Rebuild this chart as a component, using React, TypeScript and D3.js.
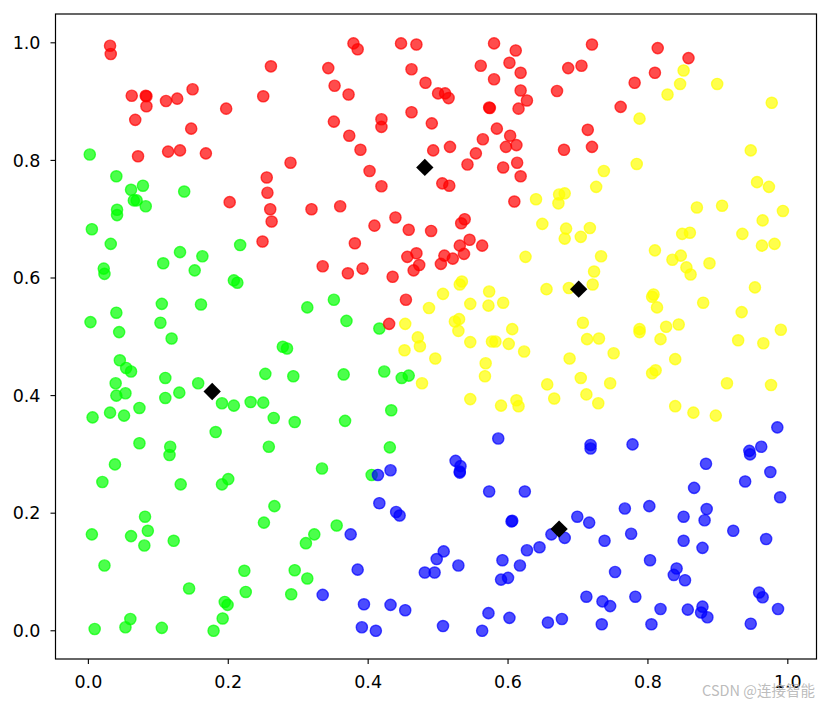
import React from "react";
import * as d3 from "d3";

// ---- data ----
const redPoints: [number, number][] = [
  [0.031, 0.995], [0.032, 0.981], [0.261, 0.960], [0.062, 0.910], [0.082, 0.910], [0.083, 0.909],
  [0.083, 0.892], [0.111, 0.901], [0.127, 0.905], [0.149, 0.921], [0.197, 0.888], [0.250, 0.909],
  [0.067, 0.869], [0.147, 0.854], [0.071, 0.807], [0.114, 0.815], [0.131, 0.817], [0.168, 0.812],
  [0.289, 0.796], [0.255, 0.771], [0.256, 0.745], [0.202, 0.729], [0.260, 0.717], [0.262, 0.696],
  [0.319, 0.717], [0.379, 0.999], [0.385, 0.989], [0.447, 0.999], [0.469, 0.997], [0.580, 0.999],
  [0.611, 0.987], [0.343, 0.957], [0.462, 0.955], [0.561, 0.961], [0.602, 0.966], [0.618, 0.949],
  [0.686, 0.957], [0.352, 0.927], [0.372, 0.912], [0.482, 0.932], [0.500, 0.914], [0.510, 0.914],
  [0.515, 0.906], [0.580, 0.938], [0.618, 0.919], [0.627, 0.902], [0.670, 0.918], [0.462, 0.882],
  [0.573, 0.890], [0.574, 0.889], [0.615, 0.888], [0.351, 0.866], [0.419, 0.870], [0.419, 0.857],
  [0.491, 0.863], [0.373, 0.842], [0.389, 0.818], [0.493, 0.817], [0.517, 0.823], [0.564, 0.836],
  [0.584, 0.854], [0.603, 0.842], [0.597, 0.823], [0.612, 0.826], [0.554, 0.812], [0.542, 0.793],
  [0.593, 0.788], [0.613, 0.796], [0.618, 0.773], [0.680, 0.818], [0.402, 0.782], [0.419, 0.756],
  [0.506, 0.761], [0.516, 0.757], [0.609, 0.730], [0.360, 0.722], [0.439, 0.703], [0.409, 0.689],
  [0.458, 0.682], [0.490, 0.680], [0.533, 0.693], [0.538, 0.700], [0.720, 0.997], [0.814, 0.991],
  [0.858, 0.974], [0.705, 0.961], [0.810, 0.949], [0.781, 0.932], [0.761, 0.891], [0.714, 0.852],
  [0.720, 0.823], [0.249, 0.662], [0.381, 0.659], [0.335, 0.620], [0.371, 0.608], [0.392, 0.616],
  [0.435, 0.602], [0.456, 0.636], [0.469, 0.642], [0.473, 0.622], [0.465, 0.613], [0.509, 0.638],
  [0.504, 0.624], [0.521, 0.633], [0.531, 0.655], [0.537, 0.641], [0.545, 0.665], [0.563, 0.655],
  [0.454, 0.563], [0.430, 0.522],
];

const yellowPoints: [number, number][] = [
  [0.640, 0.734], [0.673, 0.742], [0.681, 0.744], [0.672, 0.727], [0.649, 0.692], [0.683, 0.684],
  [0.851, 0.953], [0.846, 0.930], [0.828, 0.912], [0.899, 0.930], [0.977, 0.898], [0.788, 0.871],
  [0.947, 0.817], [0.784, 0.794], [0.737, 0.782], [0.726, 0.755], [0.956, 0.763], [0.973, 0.755],
  [0.870, 0.720], [0.906, 0.723], [0.964, 0.698], [0.993, 0.714], [0.717, 0.685], [0.704, 0.670],
  [0.849, 0.675], [0.860, 0.677], [0.935, 0.675], [0.625, 0.636], [0.681, 0.667], [0.534, 0.594],
  [0.531, 0.589], [0.507, 0.573], [0.573, 0.577], [0.546, 0.556], [0.572, 0.553], [0.593, 0.558],
  [0.655, 0.581], [0.687, 0.583], [0.487, 0.549], [0.453, 0.522], [0.524, 0.526], [0.530, 0.530],
  [0.529, 0.510], [0.606, 0.513], [0.471, 0.499], [0.474, 0.484], [0.452, 0.477], [0.546, 0.491],
  [0.577, 0.492], [0.582, 0.492], [0.601, 0.488], [0.623, 0.475], [0.496, 0.463], [0.568, 0.455],
  [0.567, 0.433], [0.688, 0.463], [0.477, 0.421], [0.656, 0.419], [0.546, 0.394], [0.590, 0.383],
  [0.612, 0.392], [0.615, 0.382], [0.666, 0.395], [0.963, 0.655], [0.981, 0.658], [0.810, 0.647],
  [0.733, 0.637], [0.835, 0.631], [0.847, 0.638], [0.855, 0.618], [0.861, 0.606], [0.888, 0.625],
  [0.723, 0.611], [0.721, 0.589], [0.953, 0.584], [0.808, 0.572], [0.806, 0.568], [0.813, 0.550],
  [0.879, 0.558], [0.934, 0.542], [0.707, 0.524], [0.788, 0.513], [0.788, 0.508], [0.826, 0.517],
  [0.844, 0.521], [0.990, 0.512], [0.713, 0.496], [0.730, 0.497], [0.818, 0.496], [0.929, 0.494],
  [0.965, 0.489], [0.751, 0.472], [0.839, 0.462], [0.704, 0.430], [0.746, 0.421], [0.806, 0.438],
  [0.811, 0.443], [0.913, 0.421], [0.976, 0.418], [0.712, 0.402], [0.729, 0.387], [0.839, 0.382],
  [0.865, 0.371], [0.897, 0.366],
];

const greenPoints: [number, number][] = [
  [0.002, 0.810], [0.040, 0.773], [0.061, 0.750], [0.078, 0.757], [0.065, 0.732], [0.069, 0.732],
  [0.082, 0.722], [0.041, 0.716], [0.041, 0.707], [0.137, 0.747], [0.005, 0.683], [0.032, 0.658],
  [0.131, 0.644], [0.163, 0.637], [0.107, 0.625], [0.152, 0.613], [0.217, 0.656], [0.022, 0.616],
  [0.023, 0.607], [0.208, 0.596], [0.213, 0.592], [0.105, 0.556], [0.161, 0.555], [0.313, 0.550],
  [0.040, 0.541], [0.003, 0.525], [0.103, 0.524], [0.044, 0.508], [0.119, 0.497], [0.278, 0.483],
  [0.284, 0.480], [0.045, 0.460], [0.054, 0.447], [0.061, 0.441], [0.110, 0.430], [0.253, 0.437],
  [0.293, 0.433], [0.039, 0.421], [0.157, 0.421], [0.040, 0.400], [0.053, 0.404], [0.130, 0.405],
  [0.110, 0.396], [0.191, 0.387], [0.208, 0.383], [0.232, 0.389], [0.250, 0.388], [0.006, 0.363],
  [0.031, 0.371], [0.051, 0.366], [0.073, 0.379], [0.265, 0.362], [0.295, 0.355], [0.182, 0.338],
  [0.073, 0.319], [0.117, 0.313], [0.258, 0.313], [0.351, 0.563], [0.369, 0.527], [0.416, 0.514],
  [0.365, 0.436], [0.423, 0.441], [0.448, 0.430], [0.458, 0.434], [0.433, 0.375], [0.367, 0.357],
  [0.431, 0.312], [0.116, 0.299], [0.038, 0.283], [0.020, 0.253], [0.132, 0.249], [0.191, 0.249],
  [0.200, 0.258], [0.266, 0.212], [0.251, 0.184], [0.081, 0.194], [0.085, 0.170], [0.061, 0.161],
  [0.080, 0.145], [0.005, 0.164], [0.122, 0.153], [0.323, 0.164], [0.311, 0.149], [0.023, 0.111],
  [0.223, 0.102], [0.225, 0.066], [0.144, 0.072], [0.295, 0.103], [0.313, 0.089], [0.290, 0.062],
  [0.195, 0.049], [0.199, 0.044], [0.192, 0.021], [0.179, 0.000], [0.060, 0.020], [0.053, 0.006],
  [0.009, 0.003], [0.105, 0.005], [0.334, 0.276], [0.405, 0.265], [0.355, 0.179],
];

const bluePoints: [number, number][] = [
  [0.586, 0.327], [0.985, 0.346], [0.718, 0.316], [0.718, 0.310], [0.778, 0.317], [0.962, 0.313],
  [0.945, 0.306], [0.414, 0.265], [0.432, 0.273], [0.525, 0.289], [0.532, 0.280], [0.531, 0.269],
  [0.531, 0.271], [0.573, 0.237], [0.624, 0.237], [0.416, 0.217], [0.440, 0.202], [0.445, 0.196],
  [0.605, 0.186], [0.606, 0.187], [0.375, 0.164], [0.662, 0.164], [0.681, 0.158], [0.645, 0.142],
  [0.627, 0.137], [0.508, 0.135], [0.498, 0.122], [0.592, 0.120], [0.617, 0.111], [0.529, 0.111],
  [0.481, 0.099], [0.495, 0.099], [0.385, 0.104], [0.590, 0.087], [0.600, 0.090], [0.335, 0.061],
  [0.394, 0.045], [0.432, 0.044], [0.453, 0.035], [0.572, 0.030], [0.602, 0.022], [0.657, 0.014],
  [0.677, 0.020], [0.391, 0.006], [0.411, 0.000], [0.507, 0.008], [0.563, 0.000], [0.946, 0.300],
  [0.883, 0.284], [0.975, 0.270], [0.939, 0.254], [0.866, 0.243], [0.989, 0.227], [0.767, 0.208],
  [0.802, 0.212], [0.884, 0.207], [0.851, 0.194], [0.881, 0.188], [0.699, 0.194], [0.716, 0.184],
  [0.738, 0.153], [0.776, 0.165], [0.922, 0.170], [0.851, 0.153], [0.878, 0.141], [0.969, 0.156],
  [0.803, 0.120], [0.753, 0.100], [0.841, 0.106], [0.837, 0.095], [0.853, 0.086], [0.712, 0.058],
  [0.735, 0.050], [0.746, 0.042], [0.782, 0.058], [0.818, 0.037], [0.857, 0.036], [0.878, 0.041],
  [0.876, 0.031], [0.885, 0.023], [0.959, 0.065], [0.964, 0.057], [0.986, 0.037], [0.734, 0.011],
  [0.805, 0.011], [0.947, 0.012],
];

const centroids: [number, number][] = [
  [0.481, 0.788], [0.701, 0.581], [0.177, 0.407], [0.673, 0.173],
];

const xTicks = [0.0, 0.2, 0.4, 0.6, 0.8, 1.0];
const yTicks = [0.0, 0.2, 0.4, 0.6, 0.8, 1.0];
const xDomain: [number, number] = [-0.047, 1.041];
const yDomain: [number, number] = [-0.048, 1.049];
const watermark = "CSDN @连接智能";

const series = [
  { name: "green", color: "#00ff00", points: greenPoints },
  { name: "red", color: "#ff0000", points: redPoints },
  { name: "yellow", color: "#ffff00", points: yellowPoints },
  { name: "blue", color: "#0000ff", points: bluePoints },
];

export default function App() {
  const W = 827, H = 705;
  const left = 55.5, right = 816.5, top = 14, bottom = 659;
  const x = d3.scaleLinear().domain(xDomain).range([left, right]);
  const y = d3.scaleLinear().domain(yDomain).range([bottom, top]);
  const fmt = d3.format(".1f");
  const diamond = d3.symbol().type(d3.symbolSquare).size(150)();

  return (
    <svg width={W} height={H} style={{ position: "absolute", left: 0, top: 0, background: "#fff" }}
      fontFamily="DejaVu Sans, sans-serif">
      <rect x={0} y={0} width={W} height={H} fill="#fff" />
      {series.map((s) => (
        <g key={s.name}>
          {s.points.map((p, i) => (
            <circle key={i} cx={x(p[0])} cy={y(p[1])} r={5.6} fill={s.color} fillOpacity={0.7}
              stroke={s.color} strokeOpacity={0.7} strokeWidth={1.4} />
          ))}
        </g>
      ))}
      {centroids.map((c, i) => (
        <path key={i} d={diamond || ""} transform={`translate(${x(c[0])},${y(c[1])}) rotate(45)`} fill="#000" />
      ))}
      <rect x={left} y={top} width={right - left} height={bottom - top} fill="none" stroke="#000" strokeWidth={1.2} />
      {xTicks.map((t) => (
        <g key={"x" + t}>
          <line x1={x(t)} x2={x(t)} y1={bottom} y2={bottom + 5} stroke="#000" strokeWidth={1.1} />
          <text x={x(t)} y={bottom + 29} textAnchor="middle" fontSize={17.5} fill="#000">{fmt(t)}</text>
        </g>
      ))}
      {yTicks.map((t) => (
        <g key={"y" + t}>
          <line x1={left - 5} x2={left} y1={y(t)} y2={y(t)} stroke="#000" strokeWidth={1.1} />
          <text x={left - 15} y={y(t)} dy="0.35em" textAnchor="end" fontSize={17.5} fill="#000">{fmt(t)}</text>
        </g>
      ))}
      <text x={815} y={696} textAnchor="end" fontSize={14.5} fill="#b4b4b4" fillOpacity={0.9}
        fontFamily="Noto Sans CJK SC, sans-serif">{watermark}</text>
    </svg>
  );
}
